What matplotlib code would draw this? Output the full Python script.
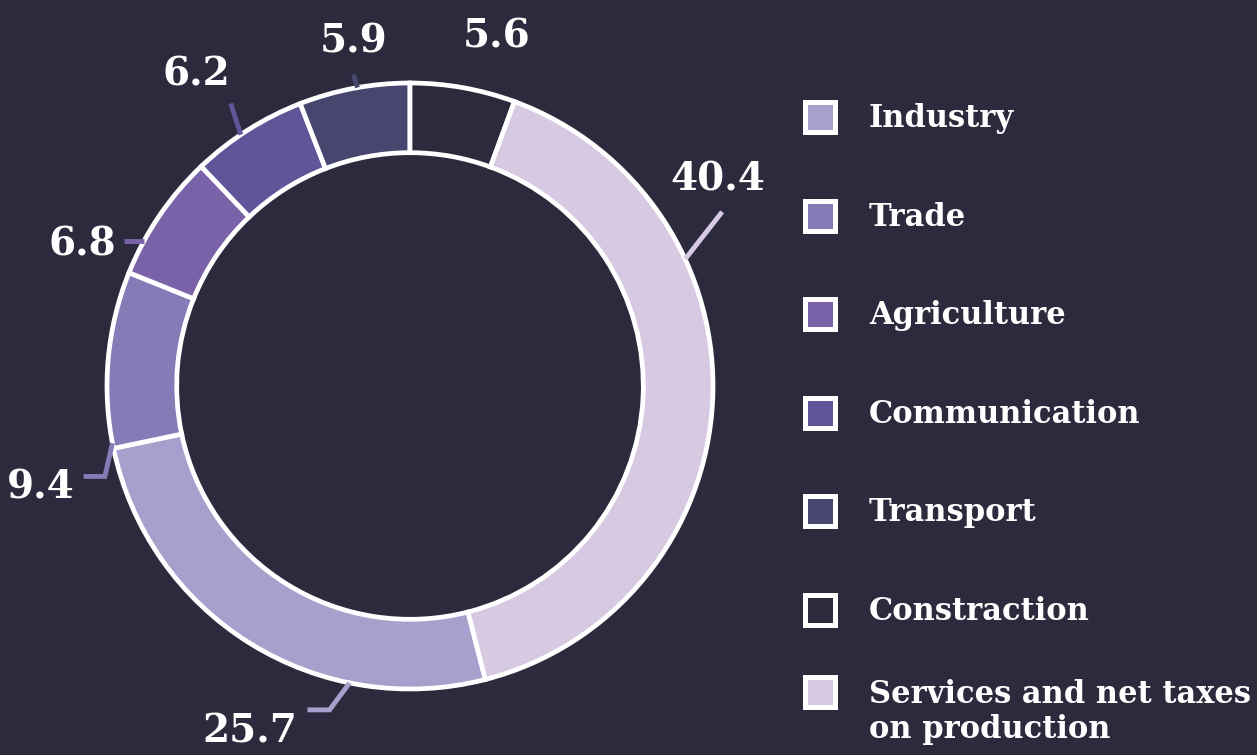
import numpy as np
import matplotlib.pyplot as plt
from matplotlib.patches import Rectangle

# data (legend order)
sectors = ['Industry', 'Trade', 'Agriculture', 'Communication', 'Transport',
           'Constraction', 'Services and net taxes\non production']
shares = [25.7, 9.4, 6.8, 6.2, 5.9, 5.6, 40.4]
value_labels = ['25.7', '9.4', '6.8', '6.2', '5.9', '5.6', '40.4']

colors = ['#a8a0cc', '#857bb7', '#7a62a8', '#5f5599', '#46466f', '#2c2a3d', '#d8c9e3']
bg = '#2c2a3d'

W, H = 1257, 755
R = 303.0           # ring radius, px
cx, cy = 410, 386   # ring centre, px from top-left

fig = plt.figure(figsize=(W / 100, H / 100), dpi=100, facecolor=bg)
ax = fig.add_axes([0, 0, 1, 1])
ax.set_facecolor(bg)

total = sum(shares)
start = 90 + 360 * sum(shares[:5]) / total   # so Constraction begins at 12 o'clock
wedges, _ = ax.pie(shares, colors=colors, startangle=start, counterclock=False, radius=1,
                   wedgeprops=dict(width=0.23, edgecolor='white', linewidth=3.4))
ax.set_xlim(-cx / R, (W - cx) / R)
ax.set_ylim(-(H - cy) / R, cy / R)
ax.axis('off')

# leader lines: where along the wedge, first leg, horizontal leg, text offset, alignment
lead_frac = [0.28, 0.03, 0.27, 0.43, 0.53, 0.50, 0.31]
leg1 = [(-0.066, -0.089), (-0.025, -0.11), (0, 0), (-0.033, 0.103), (-0.013, 0.043), None, (0.122, 0.156)]
leg2 = [-0.073, -0.07, -0.066, 0, 0, 0, 0]
txt_off = [(-0.033, -0.06), (-0.03, -0.025), (-0.026, 0), (-0.113, 0.106), (0, 0.12), (0.112, 0.178), (-0.013, 0.116)]
txt_ha = ['right', 'right', 'right', 'center', 'center', 'center', 'center']
num_size = 28
cap_half = num_size / 72 * 100 * 0.729 / 2 / R

cum = np.concatenate([[0], np.cumsum(shares)])
th_a = start - 360 * cum[:-1] / total
th_b = start - 360 * cum[1:] / total
for i in range(len(shares)):
    th = np.radians(th_a[i] + (th_b[i] - th_a[i]) * lead_frac[i])
    p0 = np.array([np.cos(th), np.sin(th)])
    if leg1[i] is None:
        p2 = p0
    else:
        p1 = p0 + np.array(leg1[i])
        p2 = p1 + np.array([leg2[i], 0])
        ax.plot([p0[0], p1[0], p2[0]], [p0[1], p1[1], p2[1]], color=colors[i],
                lw=3.5, solid_capstyle='butt', solid_joinstyle='miter', zorder=1)
    ax.text(p2[0] + txt_off[i][0], p2[1] + txt_off[i][1] - cap_half, value_labels[i],
            color='white', fontsize=num_size, fontweight='bold', family='DejaVu Serif',
            ha=txt_ha[i], va='baseline')

# legend
def fx(px):
    return px / W

def fy(py):
    return 1 - py / H

sq = 30
rows = 117 + 98.6 * np.arange(len(sectors))
rows[-1] = 692
for i, name in enumerate(sectors):
    y = rows[i]
    fig.add_artist(Rectangle((fx(805), fy(y + sq / 2)), sq / W, sq / H, transform=fig.transFigure,
                             facecolor=colors[i], edgecolor='white', linewidth=3.6))
    base = y + 10 + 36 * name.count('\n')   # va='baseline' follows the last line
    fig.text(fx(869), fy(base), name, color='white', fontsize=22, fontweight='bold',
             family='DejaVu Serif', va='baseline', linespacing=1.15)

fig.savefig('out.png', dpi=100, facecolor=bg)
